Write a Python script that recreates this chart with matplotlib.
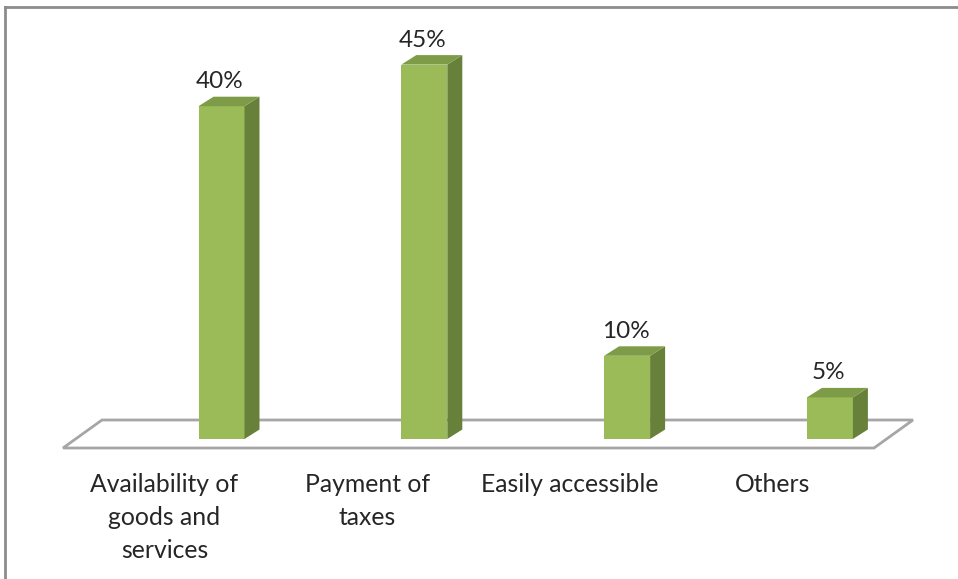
import matplotlib
matplotlib.use("Agg")
import matplotlib.pyplot as plt
from matplotlib.patches import Polygon
from matplotlib.lines import Line2D

categories = ["Availability of\ngoods and\nservices", "Payment of\ntaxes",
              "Easily accessible", "Others"]
values = [40, 45, 10, 5]
value_labels = ["40%", "45%", "10%", "5%"]

# colours of the three visible faces of each 3-D bar
FRONT = "#9BBB59"
TOP = "#7E9C48"
SIDE = "#67803A"
FLOOR_EDGE = "#A6A6A6"
TEXT = "#262626"

W, H, DPI = 958, 579, 100
fig = plt.figure(figsize=(W / DPI, H / DPI), dpi=DPI)
ax = fig.add_axes([0, 0, 1, 1])

# axes scale: one category step and one percent in figure pixels
step_px, pct_px = 202.8, 8.32
x0_px, base_px = 221.5, 439.0
ax.set_xlim(-x0_px / step_px, (W - x0_px) / step_px)
ax.set_ylim(-(H - base_px) / pct_px, base_px / pct_px)
ax.axis("off")

bar_w = 46 / step_px
dx = 15 / step_px          # bar depth, horizontal
dy = 9.5 / pct_px          # bar depth, vertical

# floor of the 3-D plot area
fl_front, fl_back = -9 / pct_px, 19 / pct_px
fl_left, fl_right = (63 - x0_px) / step_px, (874 - x0_px) / step_px
fl_dx = 39 / step_px
floor = Polygon([(fl_left, fl_front), (fl_right, fl_front),
                 (fl_right + fl_dx, fl_back), (fl_left + fl_dx, fl_back)],
                closed=True, facecolor="white", edgecolor=FLOOR_EDGE,
                linewidth=2.0, zorder=1)
ax.add_patch(floor)

for i, (v, lab) in enumerate(zip(values, value_labels)):
    l, r = i - bar_w / 2, i + bar_w / 2
    front = Polygon([(l, 0), (r, 0), (r, v), (l, v)], closed=True,
                    facecolor=FRONT, edgecolor="none", zorder=3)
    side = Polygon([(r, 0), (r + dx, dy), (r + dx, v + dy), (r, v)], closed=True,
                   facecolor=SIDE, edgecolor="none", zorder=3)
    top = Polygon([(l, v), (r, v), (r + dx, v + dy), (l + dx, v + dy)], closed=True,
                  facecolor=TOP, edgecolor="none", zorder=3)
    for p in (front, side, top):
        ax.add_patch(p)
    ax.text(i - 1.5 / step_px, v + 18 / pct_px, lab, ha="center", va="baseline",
            fontsize=17.5, color=TEXT, family="Lato")

for i, c in enumerate(categories):
    ax.text(i - 57 / step_px, -34 / pct_px, c, ha="center", va="top",
            fontsize=17.8, color=TEXT, family="Lato", linespacing=1.53,
            multialignment="center")

# chart-area frame (top and left edges)
fig.add_artist(Line2D([5 / W, 1], [1 - 7 / H, 1 - 7 / H], color="#8C8C8C",
                      linewidth=2.0, transform=fig.transFigure))
fig.add_artist(Line2D([5 / W, 5 / W], [0, 1 - 7 / H], color="#8C8C8C",
                      linewidth=2.0, transform=fig.transFigure))

fig.savefig("out.png", dpi=DPI)
